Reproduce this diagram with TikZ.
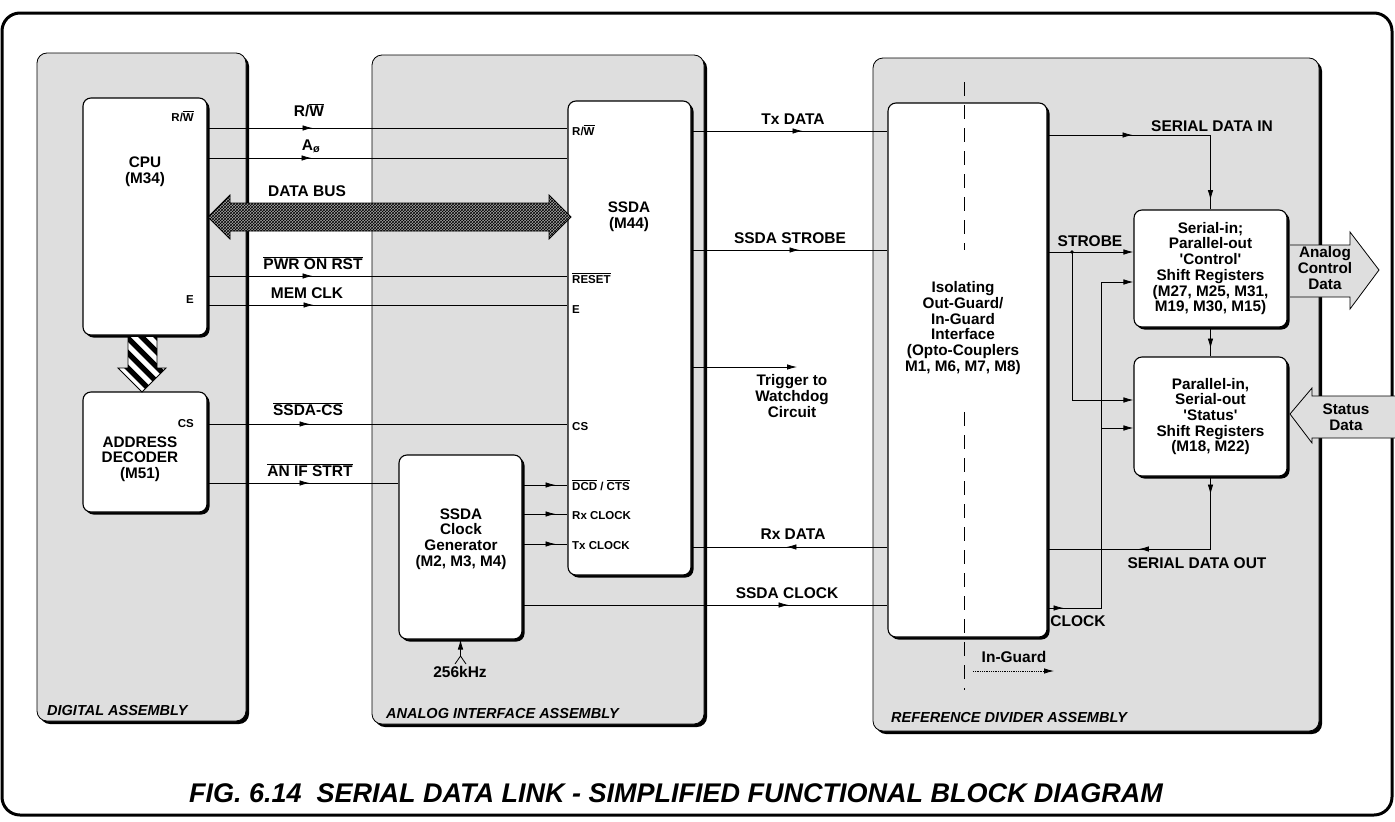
\documentclass[tikz,border=0pt]{standalone}
\usepackage{fontspec}
\setmainfont{Liberation Sans}
\usetikzlibrary{arrows.meta,decorations.markings,shadows,calc,patterns}
\newcommand{\ovl}[1]{$\overline{\mbox{#1}}$}
\tikzset{
  panel/.style={draw=black, line width=0.8pt, fill=black!13, rounded corners=10pt, inner sep=0pt,
    drop shadow={shadow xshift=3pt, shadow yshift=-3pt, fill=black, opacity=1}},
  box/.style={draw=black, line width=1.1pt, fill=white, rounded corners=8pt, inner sep=0pt,
    drop shadow={shadow xshift=2.5pt, shadow yshift=-2.5pt, fill=black, opacity=1}},
  sig/.style={line width=0.8pt},
  lbl/.style={font=\fontsize{15.5}{16}\selectfont\bfseries, inner sep=0pt},
  pinlbl/.style={font=\fontsize{11.5}{12}\selectfont\bfseries, inner sep=0pt, anchor=base west},
  boxtext/.style={font=\fontsize{15.3}{15.7}\selectfont\bfseries, align=center, inner sep=0pt},
  asm/.style={font=\fontsize{14.5}{15}\selectfont\bfseries\itshape, anchor=west, inner sep=0pt},
  markat/.style={postaction={decorate, decoration={markings,
     mark=at position #1 with {\arrow{Latex[length=10pt,width=5.5pt]}}}}},
  endarrow/.style={-{Latex[length=10pt,width=5.5pt]}},
  bigarrow/.style={fill=black!13},
}
\begin{document}
\begin{tikzpicture}[x=1pt,y=-1pt]
\useasboundingbox (0,0) rectangle (1395,822);
% outer frame
\draw[line width=3pt, rounded corners=18pt] (2,13) rectangle (1392,815);

% panels
\node[panel, minimum width=209pt, minimum height=668pt] (dig) at (141.5,387) {};
\node[panel, minimum width=332pt, minimum height=669pt] (ana) at (538,389.5) {};
\node[panel, minimum width=446pt, minimum height=673pt] (ref) at (1096,394.5) {};
\node[asm] (digl) at (47,710) {DIGITAL ASSEMBLY};
\node[asm] (anal) at (386,713) {ANALOG INTERFACE ASSEMBLY};
\node[asm] (refl) at (891,717) {REFERENCE DIVIDER ASSEMBLY};

% boxes
\node[box, minimum width=124pt, minimum height=237pt] (cpu) at (145,216.5) {};
\node[boxtext] (cput) at (145,172) {CPU\\(M34)};
\node[pinlbl, anchor=base east] (cpurw) at (194,121) {R/\ovl{W}};
\node[pinlbl, anchor=base east] (cpue) at (194,303) {E};

\node[box, minimum width=124pt, minimum height=120pt] (addr) at (145,452) {};
\node[boxtext] (addrt) at (140,459) {ADDRESS\\DECODER\\(M51)};
\node[pinlbl, anchor=base east] (addrcs) at (194,427) {CS};

\node[box, minimum width=123pt, minimum height=474pt] (ssda) at (629.5,338) {};
\node[boxtext] (ssdat) at (629,217) {SSDA\\(M44)};
\node[pinlbl] (prw) at (572,135) {R/\ovl{W}};
\node[pinlbl] (prst) at (572,283) {\ovl{RESET}};
\node[pinlbl] (pe) at (572,313) {E};
\node[pinlbl] (pcs) at (572,430) {CS};
\node[pinlbl] (pdcd) at (572,490) {\ovl{DCD} / \ovl{CTS}};
\node[pinlbl] (prx) at (572,519) {Rx CLOCK};
\node[pinlbl] (ptx) at (572,549) {Tx CLOCK};

\node[box, minimum width=123pt, minimum height=184pt] (clk) at (460.5,547) {};
\node[boxtext] (clkt) at (461,539) {SSDA\\Clock\\Generator\\(M2, M3, M4)};

\node[box, minimum width=159pt, minimum height=534pt] (iso) at (967.5,370) {};
\node[boxtext] (isot) at (963,328) {Isolating\\Out-Guard/\\In-Guard\\Interface\\(Opto-Couplers\\M1, M6, M7, M8)};
\draw[line width=0.8pt, dash pattern=on 14pt off 9pt] (964,82) -- (964,250);
\draw[line width=0.8pt, dash pattern=on 14pt off 9pt] (964,412) -- (964,690);

\node[box, boxtext, minimum width=153pt, minimum height=117pt] (ctl) at (1210.5,268.5)
  {Serial-in;\\Parallel-out\\\textquotesingle Control\textquotesingle\\Shift Registers\\(M27, M25, M31,\\M19, M30, M15)};
\node[box, boxtext, minimum width=153pt, minimum height=119pt] (sts) at (1210.5,416.5)
  {Parallel-in,\\Serial-out\\\textquotesingle Status\textquotesingle\\Shift Registers\\(M18, M22)};

% hatched arrow CPU -> address decoder
\begin{scope}
\clip (128,337) -- (157,337) -- (157,368) -- (166,368) -- (142,392) -- (118,368) -- (128,368) -- cycle;
\fill[white] (110,330) rectangle (175,400);
\foreach \i in {-75,-60,...,60} \draw[line width=5.3pt] (110+\i,320) -- (190+\i,400);
\end{scope}
\draw[line width=0.9pt] (128,337) -- (128,368) -- (118,368) -- (142,392) -- (166,368) -- (157,368) -- (157,337);

% left signals
\draw[sig, markat=105pt] (cpu.east |- 0,128) -- (ssda.west |- 0,128);
\node[lbl] (rwl) at (309,110) {R/\ovl{W}};
\draw[sig, markat=104pt] (cpu.east |- 0,158) -- (ssda.west |- 0,158);
\node[lbl] (a0l) at (311,146) {A\textsubscript{ø}};
\node[lbl] (busl) at (307,191) {DATA BUS};
\draw[line width=0.8pt, preaction={fill=black!35}, pattern=crosshatch, pattern color=black]
  (208,217) -- (230,195) -- (230,203) -- (549,203) -- (549,195) -- (571,217)
  -- (549,239) -- (549,231) -- (230,231) -- (230,239) -- cycle;
\draw[sig, markat=105pt] (cpu.east |- 0,276) -- (ssda.west |- 0,276);
\node[lbl] (pwrl) at (313,263) {\ovl{PWR ON RST}};
\draw[sig, markat=106pt] (cpu.east |- 0,305) -- (ssda.west |- 0,305);
\node[lbl] (meml) at (307,293) {MEM CLK};
\draw[sig, markat=102pt] (addr.east |- 0,424) -- (ssda.west |- 0,424);
\node[lbl] (csl) at (308,409) {\ovl{SSDA-CS}};
\draw[sig, markat=102pt] (addr.east |- 0,483) -- (clk.west |- 0,483);
\node[lbl] (anl) at (310,470) {\ovl{AN IF STRT}};

% clock generator outputs
\draw[sig, markat=33pt] (clk.east |- 0,485) -- (ssda.west |- 0,485);
\draw[sig, markat=33pt] (clk.east |- 0,514) -- (ssda.west |- 0,514);
\draw[sig, markat=33pt] (clk.east |- 0,544) -- (ssda.west |- 0,544);
\node[lbl] (khz) at (460,672) {256kHz};
\coordinate (khzin) at (460.5,656);
\draw[sig, endarrow] (khzin) -- (clk.south);
\draw[sig] (455,664) -- (khzin) -- (466,664);

% middle signals
\draw[sig, markat=111pt] (ssda.east |- 0,131) -- (iso.west |- 0,131);
\node[lbl] (txl) at (793,119) {Tx DATA};
\draw[sig, markat=108pt] (ssda.east |- 0,250) -- (iso.west |- 0,250);
\node[lbl] (sstl) at (790,238) {SSDA STROBE};
\coordinate (trigend) at (797,367);
\draw[sig, endarrow] (ssda.east |- 0,367) -- (trigend);
\node[boxtext] (trigl) at (792,396) {Trigger to\\Watchdog\\Circuit};
\draw[sig, markat=101pt] (iso.west |- 0,547) -- (ssda.east |- 0,547);
\node[lbl] (rxl) at (793,534) {Rx DATA};
\draw[sig, markat=266pt] (clk.east |- 0,605) -- (iso.west |- 0,605);
\node[lbl] (sckl) at (787,593) {SSDA CLOCK};

% right-hand signals
\draw[sig, markat=85pt, markat=228pt] (iso.east |- 0,135) -| (ctl.north);
\node[lbl] (sdil) at (1212,126) {SERIAL DATA IN};
\draw[sig, endarrow] (iso.east |- 0,252) -- (ctl.west |- 0,252);
\node[lbl] (strl) at (1090,241) {STROBE};
\coordinate (sb) at (1072,252);
\fill (sb) circle (1.8pt);
\draw[sig, endarrow] (sb) |- (sts.west |- 0,400);
\coordinate (ckt) at (1101,282);
\draw[sig, markat=16pt, endarrow] (iso.east |- 0,608) -| (ckt) -- (ctl.west |- ckt);
\coordinate (ckb) at (1101,428);
\draw[sig, endarrow] (ckb) -- (sts.west |- ckb);
\node[lbl] (ckl) at (1078,621) {CLOCK};
\draw[sig, markat=21pt] (ctl.south) -- (sts.north);
\draw[sig, markat=18pt, markat=144pt] (sts.south) |- (iso.east |- 0,549);
\node[lbl] (sdol) at (1197,563) {SERIAL DATA OUT};

% in-guard
\node[lbl] (ingl) at (1014,657) {In-Guard};
\coordinate (ing1) at (973,671);
\coordinate (ing2) at (1054,671);
\draw[line width=0.8pt, densely dotted, endarrow] (ing1) -- (ing2);

% analog control data arrow
\fill[bigarrow] (1290,245) -- (1350,245) -- (1350,232) -- (1379,270) -- (1350,309) -- (1350,297) -- (1290,297) -- cycle;
\draw[line width=0.8pt] (1290,245) -- (1350,245) -- (1350,232) -- (1379,270) -- (1350,309) -- (1350,297) -- (1290,297);
\node[boxtext] (acdl) at (1325,268) {Analog\\Control\\Data};

% status data arrow
\fill[bigarrow] (1290,414) -- (1312,388) -- (1312,396) -- (1396,396) -- (1396,438) -- (1312,438) -- (1312,443) -- cycle;
\draw[line width=0.8pt] (1396,396) -- (1312,396) -- (1312,388) -- (1290,414) -- (1312,443) -- (1312,438) -- (1396,438);
\node[boxtext] (sdl) at (1346,417) {Status\\Data};

% title
\node[font=\fontsize{27}{30}\selectfont\bfseries\itshape, inner sep=0pt] (title) at (676,793)
  {FIG. 6.14\ \ SERIAL DATA LINK - SIMPLIFIED FUNCTIONAL BLOCK DIAGRAM};
\end{tikzpicture}
\end{document}
